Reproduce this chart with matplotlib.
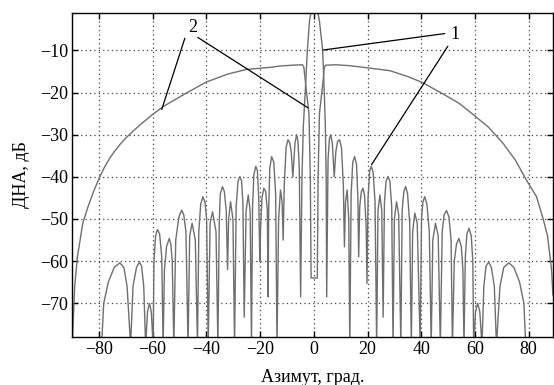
import matplotlib
matplotlib.use("Agg")
import matplotlib.pyplot as plt

# curve 1: narrow beam with sidelobes (azimuth, deg / level, dB)
az1 = [-79.0, -78.2, -76.5, -74.3, -72.2, -70.7, -69.5, -68.2,
       -67.3, -66.0, -64.9, -64.1, -63.3, -62.6,
       -61.9, -61.2, -60.5, -59.8,
       -59.5, -58.9, -58.2, -57.4, -56.6, -56.1,
       -55.6, -54.8, -53.8, -53.2, -52.7, -52.1,
       -51.4, -50.2, -49.2, -48.4, -47.6, -46.8,
       -46.2, -45.3, -44.1, -43.3,
       -42.8, -42.1, -41.3, -40.5, -39.9, -39.3,
       -38.6, -37.7, -36.4, -35.7,
       -35.2, -34.8, -34.0, -33.3, -32.6, -32.1,
       -31.7, -31.0, -30.1, -29.5,
       -28.9, -28.2, -27.5, -26.9, -26.4, -25.9,
       -25.2, -24.4, -23.7, -23.2,
       -22.8, -22.3, -21.6, -21.0, -20.5, -20.1,
       -19.8, -19.3, -18.6, -17.9, -17.3, -17.0,
       -16.8, -16.4, -15.7, -14.9, -14.2, -13.7,
       -13.1, -12.4, -11.8, -11.4,
       -11.0, -10.3, -9.6, -9.0, -8.4, -7.8,
       -7.0, -6.4, -5.9, -5.4, -4.9,
       -4.4, -3.9, -3.2, -2.4, -1.6, -0.8, 1.2, 2.1, 3.3, 3.9, 4.3, 4.6,
       4.8, 5.3, 5.8, 6.3, 6.9, 7.6,
       8.2, 8.9, 9.6, 10.3, 11.0, 11.4,
       11.8, 12.4, 13.0, 13.4,
       13.9, 14.5, 15.2, 15.9, 16.4, 16.7,
       17.1, 17.7, 18.3, 18.9, 19.5, 19.8,
       20.2, 20.8, 21.4, 22.1, 22.8, 23.4,
       23.9, 24.6, 25.3, 25.8,
       26.3, 26.9, 27.6, 28.3, 29.0, 29.5,
       30.0, 30.8, 31.6, 32.4,
       32.9, 33.5, 34.2, 34.9, 35.7, 36.3,
       36.8, 37.6, 38.5, 39.6,
       40.1, 40.6, 41.3, 42.1, 43.0, 43.7,
       44.3, 45.3, 46.3, 47.1,
       47.8, 48.5, 49.4, 50.3, 51.1, 51.6,
       52.3, 53.1, 54.0, 54.9, 55.5, 55.9,
       56.4, 57.0, 57.8, 58.6, 59.2, 59.5,
       60.2, 61.0, 61.8, 62.6,
       63.3, 64.1, 65.1, 66.1, 67.2, 68.0,
       69.3, 70.7, 72.6, 74.5, 76.6, 78.2, 78.9]
dna1 = [-80, -70, -65, -61.5, -60.4, -61.5, -66, -80,
        -66, -61.5, -60.2, -61.2, -66, -80,
        -72, -70, -72, -80,
        -60, -54, -52.5, -53.5, -59, -80,
        -62, -56.5, -54.6, -56, -60, -80,
        -55, -49.5, -47.9, -49, -53, -80,
        -54, -51, -55, -80,
        -53, -46.5, -44.7, -46, -50, -80,
        -51, -48.3, -53, -80,
        -51, -44, -42.3, -43.5, -48, -62,
        -50, -45.9, -50, -80,
        -47, -41, -39.9, -41, -46, -73.3,
        -48, -44.3, -48, -80,
        -47, -39.5, -37.5, -38.5, -45, -60,
        -52, -45, -42.7, -43.5, -48, -68.5,
        -48, -38, -35.2, -36.5, -44, -80,
        -50, -43.1, -46, -55,
        -42, -33, -31.2, -31.8, -34, -40,
        -32, -30, -31.5, -38, -68.5,
        -40, -28, -20, -10, -3, 0, 0, -3, -10, -20, -28, -40,
        -68.5, -36, -31, -30, -32, -40,
        -34, -31.5, -31.2, -33, -42, -56.6,
        -46, -43.1, -50, -80,
        -44, -36.5, -35.2, -37, -45, -59,
        -47, -43.5, -42.7, -44.5, -52, -65.3,
        -45, -38.5, -37.5, -39, -46, -80,
        -48, -44.3, -48, -73.3,
        -46, -41, -39.9, -41, -47, -80,
        -50, -45.9, -49, -80,
        -48, -43.5, -42.3, -44, -51, -80,
        -53, -48.6, -51, -80,
        -50, -46, -44.7, -46.5, -53, -80,
        -55, -51, -54, -80,
        -53, -49, -48, -49.5, -55, -80,
        -60, -56, -54.6, -56.5, -62, -80,
        -59, -53.5, -52.2, -54, -60, -80,
        -72, -70, -72, -80,
        -66, -61.2, -60.2, -61.5, -66, -80,
        -66, -61.5, -60.4, -61.5, -65, -70, -80]

# curve 2: wide pattern with a narrow notch at boresight
az2 = [-89.8, -89.0, -88.0, -86.0, -84.0, -82.0, -80.0, -78.0, -76.0,
       -74.0, -72.0, -70.0, -67.0, -64.0, -60.0, -56.0, -52.0, -47.4,
       -40.0, -32.0, -25.0, -16.0, -12.7, -8.0, -4.2, -3.7, -3.2, -2.5,
       -1.8, -1.3, -1.0, 1.3, 1.6, 2.1, 2.8, 3.5, 3.9, 4.4, 8.0, 13.0,
       19.6, 28.3, 35.0, 40.7, 48.0, 54.0, 59.3, 65.0, 70.4, 75.0, 79.1,
       82.9, 85.3, 87.0, 88.5, 89.0]
dna2 = [-78, -66, -59, -51, -47, -43.5, -40.5, -37.8, -35.6,
        -33.8, -32.2, -30.8, -29, -27.3, -25.2, -23.3, -21.8, -20.1,
        -17.5, -15.6, -14.5, -14.0, -13.7, -13.5, -13.4, -14, -17, -21,
        -25, -40, -64, -64, -40, -25, -21, -17, -14, -13.5, -13.4, -13.6,
        -14.1, -14.8, -16.2, -17.7, -20.3, -22.5, -25.2, -28.2, -32, -36, -40.7,
        -44.7, -49.8, -54, -62, -68]

xticks = [-80, -60, -40, -20, 0, 20, 40, 60, 80]
yticks = [-70, -60, -50, -40, -30, -20, -10]

plt.rcParams['font.family'] = ['Liberation Serif', 'DejaVu Serif']
plt.rcParams['font.size'] = 13

fig = plt.figure(figsize=(5.54, 3.85), dpi=100)
ax = fig.add_axes([0.130, 0.1247, 0.868, 0.8428])

line_col = '#6f6f6f'
ax.plot(az2, dna2, color=line_col, lw=1.0)
ax.plot(az1, dna1, color=line_col, lw=1.0)

ax.set_xlim(-90, 89)
ax.set_ylim(-78, -1)
ax.set_xticks(xticks)
ax.set_yticks(yticks)
ax.grid(True, linestyle=(0, (1, 2.5)), color='#444444', lw=0.9)
ax.tick_params(direction='in', top=True, right=True, length=4, width=1, pad=3)
for s in ax.spines.values():
    s.set_linewidth(1.0)

ax.set_xlabel('Азимут, град.', labelpad=8)
ax.set_ylabel('ДНА, дБ', labelpad=7)

arr = dict(arrowstyle='-', color='black', lw=0.9, shrinkA=0, shrinkB=0)
ax.text(-45, -4.5, '2', ha='center', va='center', fontsize=13)
ax.annotate('', xy=(-56.6, -24), xytext=(-48, -7.1), arrowprops=arr)
ax.annotate('', xy=(-2.2, -23.6), xytext=(-43.2, -6.9), arrowprops=arr)
ax.text(52.7, -6.2, '1', ha='center', va='center', fontsize=13)
ax.annotate('', xy=(3.5, -9.9), xytext=(48.7, -6.0), arrowprops=arr)
ax.annotate('', xy=(21.5, -37.1), xytext=(49.9, -9.0), arrowprops=arr)

fig.savefig('out.png', dpi=100)
